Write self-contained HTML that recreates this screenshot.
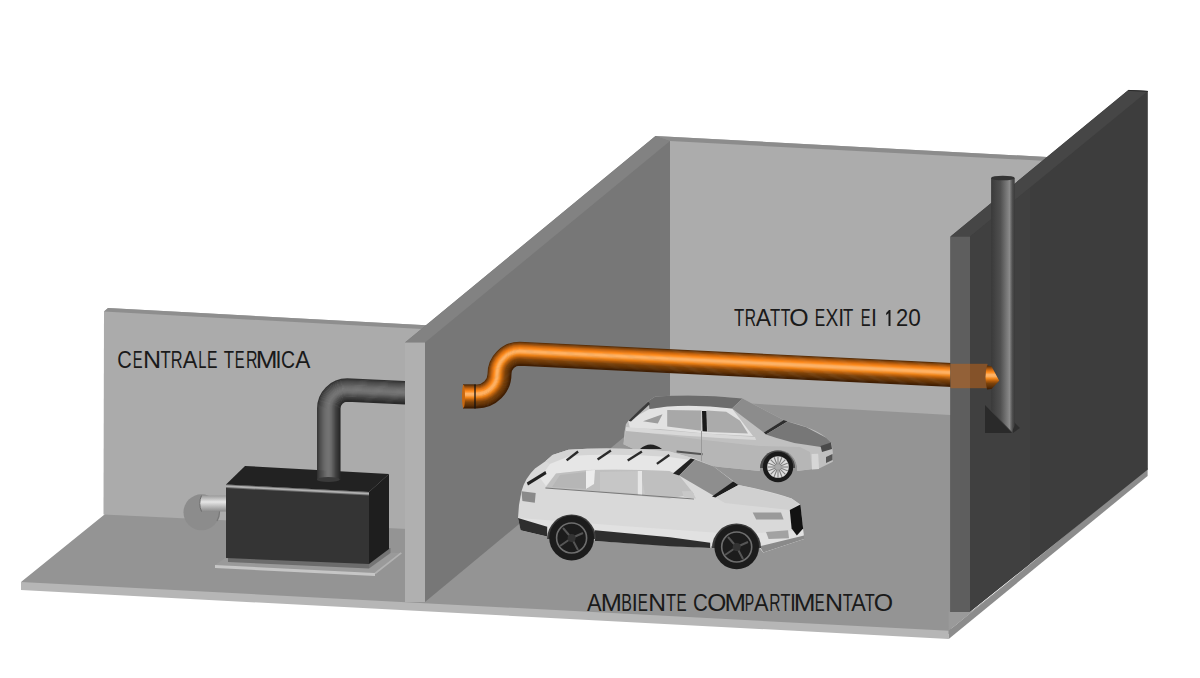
<!DOCTYPE html>
<html><head><meta charset="utf-8"><title>Tratto EXIT EI 120</title>
<style>
html,body{margin:0;padding:0;background:#fff;width:1200px;height:678px;overflow:hidden}
svg{display:block}
text{font-family:"Liberation Sans",sans-serif;fill:#1a1a1a}
</style></head><body>
<svg width="1200" height="678" viewBox="0 0 1200 678">
<defs>
<linearGradient id="gOr" x1="0" y1="0" x2="0" y2="1"><stop offset="0" stop-color="#4a2604"/><stop offset="0.06" stop-color="#7a400c"/><stop offset="0.18" stop-color="#d06a10"/><stop offset="0.28" stop-color="#ff8a1a"/><stop offset="0.38" stop-color="#ffb468"/><stop offset="0.45" stop-color="#ffb060"/><stop offset="0.55" stop-color="#f08418"/><stop offset="0.65" stop-color="#b25c0c"/><stop offset="0.75" stop-color="#7c420a"/><stop offset="0.9" stop-color="#5a2e06"/><stop offset="1" stop-color="#3a1a02"/></linearGradient>
<linearGradient id="gGrH" x1="0" y1="0" x2="0" y2="1">
<stop offset="0" stop-color="#4a4a4a"/><stop offset="0.35" stop-color="#7a7a7a"/><stop offset="0.5" stop-color="#8c8c8c"/><stop offset="0.7" stop-color="#555"/><stop offset="1" stop-color="#2a2a2a"/>
</linearGradient>
<linearGradient id="gGrV" x1="0" y1="0" x2="1" y2="0">
<stop offset="0" stop-color="#3a3a3a"/><stop offset="0.45" stop-color="#5a5a5a"/><stop offset="0.75" stop-color="#7c7c7c"/><stop offset="1" stop-color="#3a3a3a"/>
</linearGradient>
<linearGradient id="gChim" x1="0" y1="0" x2="1" y2="0">
<stop offset="0" stop-color="#3a3a3a"/><stop offset="0.4" stop-color="#505050"/><stop offset="0.78" stop-color="#8a8a8a"/><stop offset="0.9" stop-color="#505050"/><stop offset="1" stop-color="#3a3a3a"/>
</linearGradient>
<linearGradient id="gBurn" x1="0" y1="0" x2="0" y2="1">
<stop offset="0" stop-color="#9a9a9a"/><stop offset="0.4" stop-color="#e6e6e6"/><stop offset="1" stop-color="#8a8a8a"/>
</linearGradient>
</defs>

<!-- FLOOR -->
<polygon points="21,582 104.5,514.5 104.5,345 1047,345 1047,420 960,420 960,612 948.7,634 21,586" fill="#949494"/>
<polygon points="21,582 948.7,630.8 948.7,638.9 21,590" fill="#b6b6b6"/>
<polygon points="948.5,611.6 971,611.6 1005,585 948.7,630.8" fill="#9a9a9a"/>
<polygon points="948.7,630.8 1147.6,467.9 1147.6,476 948.7,638.9" fill="#8c8c8c"/>

<!-- LEFT WALL -->
<polygon points="104,311.6 108,308 440,326 440,530.6 103.5,514.5" fill="#ababab"/>
<polygon points="104,311.6 108,308 440,326 440,330.1" fill="#8e8e8e"/>

<!-- BACK WALL -->
<polygon points="655.5,136 1047,157 1047,420 950,415 670,399" fill="#acacac"/>
<polygon points="655.5,136 1047,157 1047,161 670,141" fill="#8c8c8c"/>


<!-- BOILER -->
<polygon points="215,565 240,548 401,553 375,573" fill="#9a9a9a"/>
<polygon points="215,565 375,573 375,576 215,568" fill="#c6c6c6"/>
<line x1="375" y1="573.5" x2="401.3" y2="552.8" stroke="#b2b2b2" stroke-width="1.6"/>
<polygon points="228,557 369,563 369,568.5 228,562" fill="#6c6c6c"/>
<polygon points="369,563 389,548 390.5,548 390.5,553 369,568.5" fill="#757575"/>
<circle cx="201.5" cy="512.3" r="18" fill="#8c8c8c"/>
<path d="M213,498 A18,18 0 0 1 217,521" fill="none" stroke="#777" stroke-width="1.2"/>
<path d="M201.5,495.5 L227,495.5 L227,511.5 L201.5,511.5 Q198,503.5 201.5,495.5 Z" fill="url(#gBurn)"/>
<path d="M201.5,495.5 Q198,503.5 201.5,511.5" fill="none" stroke="#6a6a6a" stroke-width="1"/>
<polygon points="226,484.5 245,466 389,474 369,492" fill="#222222"/>
<polygon points="369,492 389,474 389,549 369,564" fill="#1e1e1e"/>
<polygon points="226,484.5 369,492 369,564 226,558" fill="#343434"/>
<polygon points="226,484.6 369,492.1 369,495.6 226,488.1" fill="#6e6e6e"/>
<polygon points="226,485.3 369,492.8 369,494.6 226,487.1" fill="#b0b0b0"/>
<!-- GRAY PIPE -->
<g fill="none" stroke-linecap="butt">
<path d="M317.82,480 L317.82,408.50 A29.38,29.38 0 0 1 347.20,379.12 L405,381.82" stroke="#333333" stroke-width="1.55"/>
<path d="M318.87,480 L318.87,408.50 A28.33,28.33 0 0 1 347.20,380.17 L405,382.87" stroke="#3d3d3d" stroke-width="1.55"/>
<path d="M319.91,480 L319.91,408.50 A27.29,27.29 0 0 1 347.20,381.21 L405,383.91" stroke="#474747" stroke-width="1.55"/>
<path d="M320.96,480 L320.96,408.50 A26.24,26.24 0 0 1 347.20,382.26 L405,384.96" stroke="#4e4e4e" stroke-width="1.55"/>
<path d="M322.00,480 L322.00,408.50 A25.20,25.20 0 0 1 347.20,383.30 L405,386.00" stroke="#545454" stroke-width="1.55"/>
<path d="M323.05,480 L323.05,408.50 A24.15,24.15 0 0 1 347.20,384.35 L405,387.05" stroke="#5b5b5b" stroke-width="1.55"/>
<path d="M324.10,480 L324.10,408.50 A23.10,23.10 0 0 1 347.20,385.40 L405,388.10" stroke="#626262" stroke-width="1.55"/>
<path d="M325.14,480 L325.14,408.50 A22.06,22.06 0 0 1 347.20,386.44 L405,389.14" stroke="#696969" stroke-width="1.55"/>
<path d="M326.19,480 L326.19,408.50 A21.01,21.01 0 0 1 347.20,387.49 L405,390.19" stroke="#6d6d6d" stroke-width="1.55"/>
<path d="M327.23,480 L327.23,408.50 A19.97,19.97 0 0 1 347.20,388.53 L405,391.23" stroke="#717171" stroke-width="1.55"/>
<path d="M328.28,480 L328.28,408.50 A18.92,18.92 0 0 1 347.20,389.58 L405,392.28" stroke="#747474" stroke-width="1.55"/>
<path d="M329.32,480 L329.32,408.50 A17.88,17.88 0 0 1 347.20,390.62 L405,393.32" stroke="#747474" stroke-width="1.55"/>
<path d="M330.37,480 L330.37,408.50 A16.83,16.83 0 0 1 347.20,391.67 L405,394.37" stroke="#6f6f6f" stroke-width="1.55"/>
<path d="M331.41,480 L331.41,408.50 A15.79,15.79 0 0 1 347.20,392.71 L405,395.41" stroke="#6b6b6b" stroke-width="1.55"/>
<path d="M332.46,480 L332.46,408.50 A14.74,14.74 0 0 1 347.20,393.76 L405,396.46" stroke="#626262" stroke-width="1.55"/>
<path d="M333.50,480 L333.50,408.50 A13.70,13.70 0 0 1 347.20,394.80 L405,397.50" stroke="#585858" stroke-width="1.55"/>
<path d="M334.55,480 L334.55,408.50 A12.65,12.65 0 0 1 347.20,395.85 L405,398.55" stroke="#4f4f4f" stroke-width="1.55"/>
<path d="M335.60,480 L335.60,408.50 A11.60,11.60 0 0 1 347.20,396.90 L405,399.60" stroke="#454545" stroke-width="1.55"/>
<path d="M336.64,480 L336.64,408.50 A10.56,10.56 0 0 1 347.20,397.94 L405,400.64" stroke="#3e3e3e" stroke-width="1.55"/>
<path d="M337.69,480 L337.69,408.50 A9.51,9.51 0 0 1 347.20,398.99 L405,401.69" stroke="#373737" stroke-width="1.55"/>
<path d="M338.73,480 L338.73,408.50 A8.47,8.47 0 0 1 347.20,400.03 L405,402.73" stroke="#303030" stroke-width="1.55"/>
<path d="M339.78,480 L339.78,408.50 A7.42,7.42 0 0 1 347.20,401.08 L405,403.78" stroke="#292929" stroke-width="1.55"/>
</g>
<ellipse cx="328.3" cy="479.5" rx="11.5" ry="2.5" fill="#3a3a3a"/>

<!-- MIDDLE WALL -->
<polygon points="405,342.5 655.5,136 670,141 670,399 425,602 405,602" fill="#777777"/>
<polygon points="405,342.5 655.5,136 670,141 425,342.5" fill="#828282"/>
<rect x="405" y="342.5" width="20" height="259.5" fill="#b0b0b0"/>


<!-- ORANGE PIPE -->
<g fill="none" stroke-linecap="butt">
<path d="M463,385.10 L477,385.10 A11.20,11.20 0 0 0 488.20,373.90 A31.50,31.50 0 0 1 519.70,342.40 L988,365.50" stroke="#592e07" stroke-width="1.40"/>
<path d="M463,386.01 L477,386.01 A12.11,12.11 0 0 0 489.11,373.90 A30.59,30.59 0 0 1 519.70,343.31 L988,366.41" stroke="#783f0c" stroke-width="1.40"/>
<path d="M463,386.91 L477,386.91 A13.01,13.01 0 0 0 490.01,373.90 A29.69,29.69 0 0 1 519.70,344.21 L988,367.31" stroke="#944d0d" stroke-width="1.40"/>
<path d="M463,387.81 L477,387.81 A13.91,13.91 0 0 0 490.91,373.90 A28.79,28.79 0 0 1 519.70,345.11 L988,368.21" stroke="#af5a0e" stroke-width="1.40"/>
<path d="M463,388.72 L477,388.72 A14.82,14.82 0 0 0 491.82,373.90 A27.88,27.88 0 0 1 519.70,346.02 L988,369.12" stroke="#cb6810" stroke-width="1.40"/>
<path d="M463,389.62 L477,389.62 A15.72,15.72 0 0 0 492.72,373.90 A26.98,26.98 0 0 1 519.70,346.92 L988,370.02" stroke="#df7413" stroke-width="1.40"/>
<path d="M463,390.52 L477,390.52 A16.62,16.62 0 0 0 493.62,373.90 A26.07,26.07 0 0 1 519.70,347.82 L988,370.93" stroke="#f18017" stroke-width="1.40"/>
<path d="M463,391.43 L477,391.43 A17.53,17.53 0 0 0 494.53,373.90 A25.17,25.17 0 0 1 519.70,348.73 L988,371.83" stroke="#ff8e21" stroke-width="1.40"/>
<path d="M463,392.33 L477,392.33 A18.43,18.43 0 0 0 495.43,373.90 A24.27,24.27 0 0 1 519.70,349.63 L988,372.73" stroke="#ff9e3f" stroke-width="1.40"/>
<path d="M463,393.24 L477,393.24 A19.34,19.34 0 0 0 496.34,373.90 A23.36,23.36 0 0 1 519.70,350.54 L988,373.64" stroke="#ffae5d" stroke-width="1.40"/>
<path d="M463,394.14 L477,394.14 A20.24,20.24 0 0 0 497.24,373.90 A22.46,22.46 0 0 1 519.70,351.44 L988,374.54" stroke="#ffb365" stroke-width="1.40"/>
<path d="M463,395.04 L477,395.04 A21.14,21.14 0 0 0 498.14,373.90 A21.56,21.56 0 0 1 519.70,352.34 L988,375.44" stroke="#ffb061" stroke-width="1.40"/>
<path d="M463,395.95 L477,395.95 A22.05,22.05 0 0 0 499.05,373.90 A20.65,20.65 0 0 1 519.70,353.25 L988,376.35" stroke="#faa24a" stroke-width="1.40"/>
<path d="M463,396.85 L477,396.85 A22.95,22.95 0 0 0 499.95,373.90 A19.75,19.75 0 0 1 519.70,354.15 L988,377.25" stroke="#f5922e" stroke-width="1.40"/>
<path d="M463,397.76 L477,397.76 A23.86,23.86 0 0 0 500.86,373.90 A18.84,18.84 0 0 1 519.70,355.06 L988,378.16" stroke="#eb8117" stroke-width="1.40"/>
<path d="M463,398.66 L477,398.66 A24.76,24.76 0 0 0 501.76,373.90 A17.94,17.94 0 0 1 519.70,355.96 L988,379.06" stroke="#d37212" stroke-width="1.40"/>
<path d="M463,399.56 L477,399.56 A25.66,25.66 0 0 0 502.66,373.90 A17.04,17.04 0 0 1 519.70,356.86 L988,379.96" stroke="#bc620e" stroke-width="1.40"/>
<path d="M463,400.47 L477,400.47 A26.57,26.57 0 0 0 503.57,373.90 A16.13,16.13 0 0 1 519.70,357.77 L988,380.87" stroke="#a6560c" stroke-width="1.40"/>
<path d="M463,401.37 L477,401.37 A27.47,27.47 0 0 0 504.47,373.90 A15.23,15.23 0 0 1 519.70,358.67 L988,381.77" stroke="#914c0b" stroke-width="1.40"/>
<path d="M463,402.27 L477,402.27 A28.38,28.38 0 0 0 505.38,373.90 A14.32,14.32 0 0 1 519.70,359.57 L988,382.68" stroke="#7c420a" stroke-width="1.40"/>
<path d="M463,403.18 L477,403.18 A29.28,29.28 0 0 0 506.28,373.90 A13.42,13.42 0 0 1 519.70,360.48 L988,383.58" stroke="#733d09" stroke-width="1.40"/>
<path d="M463,404.08 L477,404.08 A30.18,30.18 0 0 0 507.18,373.90 A12.52,12.52 0 0 1 519.70,361.38 L988,384.48" stroke="#6b3808" stroke-width="1.40"/>
<path d="M463,404.99 L477,404.99 A31.09,31.09 0 0 0 508.09,373.90 A11.61,11.61 0 0 1 519.70,362.29 L988,385.39" stroke="#623307" stroke-width="1.40"/>
<path d="M463,405.89 L477,405.89 A31.99,31.99 0 0 0 508.99,373.90 A10.71,10.71 0 0 1 519.70,363.19 L988,386.29" stroke="#592d06" stroke-width="1.40"/>
<path d="M463,406.79 L477,406.79 A32.89,32.89 0 0 0 509.89,373.90 A9.81,9.81 0 0 1 519.70,364.09 L988,387.19" stroke="#4c2604" stroke-width="1.40"/>
<path d="M463,407.70 L477,407.70 A33.80,33.80 0 0 0 510.80,373.90 A8.90,8.90 0 0 1 519.70,365.00 L988,388.10" stroke="#401e03" stroke-width="1.40"/>
</g>
<rect x="463" y="384.6" width="13" height="23.5" fill="url(#gOr)"/>
<ellipse cx="463.5" cy="396.4" rx="1.5" ry="11.7" fill="#c86810"/>
<line x1="475" y1="384.5" x2="475" y2="408.5" stroke="#111" stroke-width="1.3"/>


<!-- BACK CAR -->
<g>
<path d="M623.5,444.3 L624.5,432 L625.9,424.2 L628.3,420.7 L640,410 L648.3,401 L655.4,396.5 Q700,393.5 742.6,398.6 L783.7,419.9 L786.4,421.2 Q815,428 826.2,437.8 L831.5,443.1 L832.8,452 L832.8,461.7 L819.6,468.3 L797,471 A18,18 0 0 0 760,466 L759.8,471 L720,467 L680,461 L640,452 Z" fill="#c0c0c0"/>
<path d="M626,430 Q700,440 760,446 L800,447 L810,452 L812,469 L797,471 A18,18 0 0 0 760,466 L759.8,471 L720,467 L680,461 L640,452 L623.5,444.3 Z" fill="#b6b6b6"/>
<path d="M628.3,420.7 L649.5,408.9 L667,406.5 Q700,404 732,408.6 L753,436 L705,433.5 L660,429 L630,428.5 Z" fill="#e2e2e2"/>
<path d="M626,427 Q680,432 755,437 L756,440 Q680,436 626,431 Z" fill="#d8d8d8"/>
<path d="M648.3,401 L655.4,396.5 Q700,393.5 742.6,398.6 L732,408.6 Q700,404.5 667.2,406.5 L649.5,408.9 Z" fill="#6c6c6c"/>
<path d="M628.3,420.7 L648.3,401.5 L650,404 L631,421.5 Z" fill="#3a3a3a"/>
<path d="M643,421.3 L662.5,414.2 L657.8,423.6 Z" fill="#9c9c9c"/>
<path d="M667.2,410 L701.4,410.6 L701.4,430.7 L667.2,426.6 Z" fill="#a8a8a8"/>
<path d="M702,411 L706.5,411 L707,431.5 L702.5,431.3 Z" fill="#1a1a1a"/>
<path d="M706.7,410.6 L726.2,411.8 L740,420.7 L748,433.5 L707.3,431.9 Z" fill="#ababab"/>
<path d="M732,408.6 L742.6,398.6 L783.7,419.9 L763.8,432.5 Z" fill="#8c8c8c"/>
<path d="M763.8,432.5 L783.7,419.9 L787.5,421.5 L766,434.5 Z" fill="#2e2e2e"/>
<path d="M766,434.5 L787.5,421.5 L806.3,427.2 L826.2,437.8 L831.5,443.1 L820.9,447.1 L794.3,443.1 L775.8,437.8 Z" fill="#777"/>
<path d="M820.5,446 L831,442.5 L832,449 L822,452 Z" fill="#4a4a4a"/>
<path d="M826,457 L832.5,454 L832.5,460 L826,463 Z" fill="#555"/>
<path d="M811.6,454 L818.2,453.7 L819,469 L812,469.6 Z" fill="#d6d6d6"/>
<line x1="676.6" y1="451.4" x2="702.6" y2="454.3" stroke="#555" stroke-width="2"/>
<line x1="701.5" y1="431" x2="701.5" y2="462" stroke="#999" stroke-width="1"/>
<path d="M640,449 Q650,440 662,449 Z" fill="#222"/>
<path d="M760.1,468 A17.5,17.5 0 0 1 795.1,468 Z" fill="#4a4a4a"/>
<circle cx="778" cy="467" r="15.2" fill="#1a1a1a"/>
<circle cx="778" cy="467" r="10.8" fill="#dedede"/>
<g stroke="#808080" stroke-width="1.1">
<line x1="767.5" y1="467" x2="788.5" y2="467"/><line x1="778" y1="456.5" x2="778" y2="477.5"/>
<line x1="770.6" y1="459.6" x2="785.4" y2="474.4"/><line x1="770.6" y1="474.4" x2="785.4" y2="459.6"/>
<line x1="774" y1="457" x2="782" y2="477"/><line x1="782" y1="457" x2="774" y2="477"/>
<line x1="768" y1="463" x2="788" y2="471"/><line x1="768" y1="471" x2="788" y2="463"/>
</g>
<circle cx="778" cy="467" r="2.8" fill="#aaa"/>
</g>
<!-- SUV -->
<g>
<path d="M520.6,530.3 L518,517.9 L519,505 L521.5,491.3 Q525,478 535,468.5 L545.4,461.2 L552.5,455 L568.4,449.7 Q616,446.5 669.3,451.5 L694.2,458.6 L713.7,466.5 L738.5,485.1 Q770,491 791.6,498.4 L800.4,504.6 L803.1,528.5 L804,539 L763.3,552.4 L760.5,549 A25,25 0 0 0 712,545 L710.2,548 L595,541 A24.5,24.5 0 0 0 547.2,536.5 L547.2,536.5 Z" fill="#d9d9d9"/>
<path d="M519,518 Q620,526 720,533 Q770,534 803,530 L804,539 L763.3,552.4 L760.5,549 A25,25 0 0 0 712,545 L710.2,548 L595,541 A24.5,24.5 0 0 0 547.2,536.5 L520.6,530.3 Z" fill="#e1e1e1"/>
<path d="M545.4,461.2 L552.5,455 L568.4,449.7 Q616,446.5 669.3,451.5 L694.2,458.6 L690,460 L669,457 Q616,453 570,456 L550,464 Z" fill="#d4d4d4"/>
<path d="M550,464 L570,456 Q616,453 669,457 L690,460 L673,472.7 L669.3,471 Q616,468.5 587.9,470 L556,473.6 L546,486 L540,478 Z" fill="#e6e6e6"/>
<path d="M545.4,487.8 L556,473.6 L587.9,470 Q630,469 669.3,471 L673,472.7 L679.2,475.4 L694,494 L669.3,498.4 Q620,494 580.8,490.4 Z" fill="#bfbfbf"/>
<path d="M560,475 L586,472 L588,489 L552,487 Z" fill="#b6b6b6"/>
<path d="M586,470.5 L595,470 L594,484 L586,489 Z" fill="#ececec"/>
<path d="M600,472 L640,471 L645,494 L600,491 Z" fill="#c6c6c6"/>
<path d="M637.8,471 L642,471 L642,495.5 L637.8,495 Z" fill="#e6e6e6"/>
<line x1="545.4" y1="488" x2="694" y2="499" stroke="#7a7a7a" stroke-width="1.2"/>
<path d="M526.8,482.5 L545.4,471 L546.5,474 L528,485.5 Z" fill="#222"/>
<g stroke="#2a2a2a" stroke-width="2.4">
<line x1="566.6" y1="460.4" x2="578.1" y2="451.5"/><line x1="597.6" y1="459.5" x2="610.9" y2="450.6"/><line x1="627.7" y1="460.4" x2="641.9" y2="451.5"/><line x1="656.9" y1="463.9" x2="669.3" y2="455"/>
</g>
<path d="M673,473.6 L679.2,475.4 L695,459.5 L690.7,458.6 Z" fill="#222"/>
<path d="M679.2,475.4 L695,459.5 L713.7,466.5 L736.7,484.2 L713.7,495.8 Z" fill="#8e8e8e"/>
<path d="M712,496.6 L733.2,481.6 L738.5,485.1 L715.5,497.5 Z" fill="#1e1e1e"/>
<path d="M715.5,497.5 L738.5,485.1 L760,490 L791.6,498.4 L798.7,503.7 L790,510 Q760,507 725,503 Z" fill="#d0d0d0"/>
<path d="M681.9,491.3 L692,491 L696,498.4 L684,497.5 Z" fill="#c8c8c8"/>
<path d="M789.8,509.9 L800.4,504.6 L803.1,528.5 L796.9,535.6 L791.6,528.5 Z" fill="#121212"/>
<path d="M752.7,512.6 L781,512.6 L783.6,519.6 L756.2,519.6 Z" fill="#9a9a9a"/>
<path d="M766,532 L788,530.3 L789,538.2 L768.6,539.1 Z" fill="#a2a2a2"/>
<path d="M759.7,546.2 L804,535.6 L804,539 L763.3,552.4 Z" fill="#8a8a8a"/>
<path d="M521.5,491.3 L535.7,493.1 L534.8,502.8 L522.4,501.1 Z" fill="#8a8a8a"/>
<path d="M518,517.9 L547.2,526.7 L547.2,536.5 L520.6,530.3 Z" fill="#2e2e2e"/>
<path d="M595,530.3 L670,537.3 L710.2,542.7 L710.2,548 L670,546.2 L595,541 Z" fill="#2e2e2e"/>
<path d="M547.1,539 A24.5,24.5 0 0 1 596.1,539 Z" fill="#3c3c3c"/><path d="M712,548 A24.5,24.5 0 0 1 761,548 Z" fill="#3c3c3c"/>
<circle cx="571.6" cy="538" r="22.4" fill="#1c1c1c"/>
<circle cx="736.7" cy="547" r="22.3" fill="#1c1c1c"/>
<g fill="none" stroke="#6e6e6e" stroke-width="1.6">
<circle cx="571.6" cy="538" r="15"/><circle cx="736.7" cy="547" r="15"/>
</g>
<g fill="none" stroke="#555" stroke-width="2">
<path d="M571.6,538 L563,528 M571.6,538 L583,533 M571.6,538 L578,550 M571.6,538 L560,546"/>
<path d="M736.7,547 L728,537 M736.7,547 L748,542 M736.7,547 L743,559 M736.7,547 L725,555"/>
</g>
<circle cx="571.6" cy="538" r="4" fill="#333"/><circle cx="736.7" cy="547" r="4" fill="#333"/>
</g>

<!-- RIGHT WALL -->
<polygon points="950.5,236.6 1128.4,90 1147.8,91 1147.8,469.6 969.6,612 950.5,612" fill="#3d3d3d"/>
<polygon points="970,236.6 1030,187.5 1030,563.7 969.6,612" fill="#404040"/>
<polygon points="950.5,236.6 1128.4,90 1147.8,91 970,236.6" fill="#464646"/>
<line x1="1128.4" y1="90.4" x2="1147.8" y2="91.4" stroke="#2a2a2a" stroke-width="1"/>
<rect x="950.5" y="236.6" width="19.5" height="375.4" fill="#5e5e5e"/>


<!-- CHIMNEY -->
<polygon points="985,405 985,433 1012,433" fill="#2a2a2a"/>
<polygon points="1013,421 1020,428 1013,433" fill="#2e2e2e"/>
<path d="M991.1,178 L991.1,410 L1012,432 L1014.7,425 L1014.7,178 Z" fill="url(#gChim)"/>
<ellipse cx="1002.9" cy="178" rx="11.8" ry="2.3" fill="#333"/>
<rect x="950.5" y="363.8" width="37" height="24.4" fill="#c86412" opacity="0.5"/>
<path d="M987,365.6 L991.5,366.2 L999.2,380.8 L991.5,389 L987,389.4 Q984,377.5 987,365.6 Z" fill="url(#gOr)"/>

<!-- TEXT -->
<g font-size="23.4">
<text transform="translate(117.23,367.9) scale(0.860,1)">C</text>
<text transform="translate(132.79,367.9) scale(0.631,1)">E</text>
<text transform="translate(142.94,367.9) scale(1.071,1)">N</text>
<text transform="translate(160.62,367.9) scale(0.718,1)">T</text>
<text transform="translate(170.65,367.9) scale(0.702,1)">R</text>
<text transform="translate(182.71,367.9) scale(0.935,1)">A</text>
<text transform="translate(198.29,367.9) scale(0.630,1)">L</text>
<text transform="translate(206.96,367.9) scale(0.670,1)">E</text>
<text transform="translate(223.87,367.9) scale(0.718,1)">T</text>
<text transform="translate(234.79,367.9) scale(0.631,1)">E</text>
<text transform="translate(245.94,367.9) scale(0.684,1)">R</text>
<text transform="translate(255.85,367.9) scale(1.118,1)">M</text>
<text transform="translate(275.42,367.9) scale(0.916,1)">I</text>
<text transform="translate(280.91,367.9) scale(0.830,1)">C</text>
<text transform="translate(295.36,367.9) scale(0.967,1)">A</text>
<text transform="translate(734.12,326.1) scale(0.718,1)">T</text>
<text transform="translate(744.72,326.1) scale(0.666,1)">R</text>
<text transform="translate(755.71,326.1) scale(0.983,1)">A</text>
<text transform="translate(770.12,326.1) scale(0.718,1)">T</text>
<text transform="translate(780.64,326.1) scale(0.680,1)">T</text>
<text transform="translate(789.32,326.1) scale(1.064,1)">O</text>
<text transform="translate(814.71,326.1) scale(0.670,1)">E</text>
<text transform="translate(825.57,326.1) scale(0.822,1)">X</text>
<text transform="translate(838.32,326.1) scale(0.916,1)">I</text>
<text transform="translate(843.12,326.1) scale(0.718,1)">T</text>
<text transform="translate(860.79,326.1) scale(0.631,1)">E</text>
<text transform="translate(871.02,326.1) scale(0.916,1)">I</text>
<path d="M888.5,326.1 L888.5,313.2 L886.2,315.2 L886.2,313 L889,310 L890.5,310 L890.5,326.1 Z" fill="#1a1a1a"/>
<text transform="translate(895.90,326.1) scale(0.938,1)">2</text>
<text transform="translate(908.32,326.1) scale(0.966,1)">0</text>
<text transform="translate(586.96,611.1) scale(0.935,1)">A</text>
<text transform="translate(600.67,611.1) scale(1.086,1)">M</text>
<text transform="translate(621.19,611.1) scale(0.683,1)">B</text>
<text transform="translate(631.77,611.1) scale(0.916,1)">I</text>
<text transform="translate(637.75,611.1) scale(0.650,1)">E</text>
<text transform="translate(648.23,611.1) scale(1.052,1)">N</text>
<text transform="translate(665.88,611.1) scale(0.699,1)">T</text>
<text transform="translate(676.50,611.1) scale(0.650,1)">E</text>
<text transform="translate(692.96,611.1) scale(0.877,1)">C</text>
<text transform="translate(707.34,611.1) scale(1.049,1)">O</text>
<text transform="translate(724.38,611.1) scale(1.102,1)">M</text>
<text transform="translate(744.84,611.1) scale(0.602,1)">P</text>
<text transform="translate(753.96,611.1) scale(0.935,1)">A</text>
<text transform="translate(769.22,611.1) scale(0.666,1)">R</text>
<text transform="translate(780.38,611.1) scale(0.699,1)">T</text>
<text transform="translate(790.02,611.1) scale(0.916,1)">I</text>
<text transform="translate(793.85,611.1) scale(1.118,1)">M</text>
<text transform="translate(814.79,611.1) scale(0.631,1)">E</text>
<text transform="translate(824.94,611.1) scale(1.071,1)">N</text>
<text transform="translate(842.63,611.1) scale(0.699,1)">T</text>
<text transform="translate(851.21,611.1) scale(0.935,1)">A</text>
<text transform="translate(864.63,611.1) scale(0.699,1)">T</text>
<text transform="translate(873.82,611.1) scale(1.064,1)">O</text>
</g>
</svg>
</body></html>
